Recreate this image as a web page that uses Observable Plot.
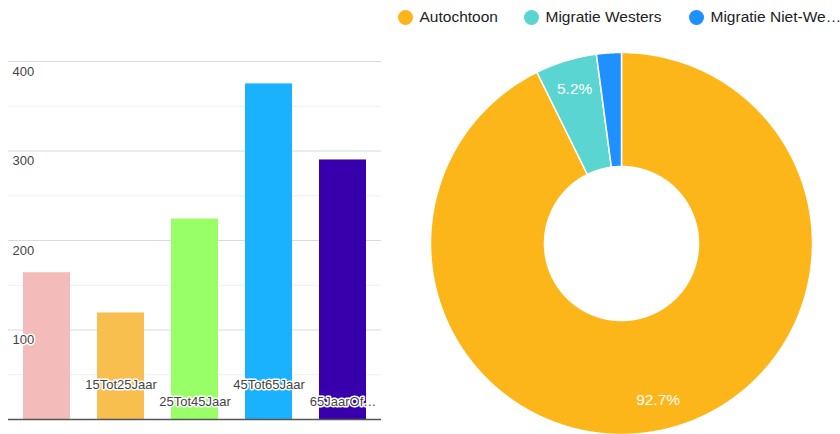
<!DOCTYPE html>
<html><head><meta charset="utf-8">
<script src="https://cdn.jsdelivr.net/npm/d3@7"></script>
<script src="https://cdn.jsdelivr.net/npm/@observablehq/plot@0.6"></script>
<style>
html,body{margin:0;padding:0;background:#fff;}
#wrap{position:relative;width:840px;height:434px;overflow:hidden;font-family:"Liberation Sans",Arial,sans-serif;}
#bars{position:absolute;left:0;top:0;}
#donut{position:absolute;left:420px;top:0;}
.lg{position:absolute;top:0;height:34px;display:flex;align-items:center;font-size:15.5px;color:#222;white-space:nowrap;}
.lg .dot{width:15px;height:15px;border-radius:50%;margin-right:7px;}
</style>
</head><body>
<div id="wrap"><div id="bars"></div><div id="donut"></div></div>
<script>
// ---- data: bar chart ----
const ageGroups = ["0Tot15Jaar", "15Tot25Jaar", "25Tot45Jaar", "45Tot65Jaar", "65JaarOfOuder"];
const ageLabels = ["", "15Tot25Jaar", "25Tot45Jaar", "45Tot65Jaar", "65JaarOf…"];
const ageCounts = [164, 119, 224, 375, 290];
const ageColors = ["#f4bbbb", "#f8be4e", "#99ff66", "#1ab2ff", "#3800ad"];
const yTickValues = [100, 200, 300, 400];
const gridMajor = [100, 200, 300, 400];
const gridMinor = [50, 150, 250, 350];

// ---- data: donut ----
const origins = ["Autochtoon", "Migratie Westers", "Migratie Niet-Westers"];
const originLegend = ["Autochtoon", "Migratie Westers", "Migratie Niet-We…"];
const originShares = [92.7, 5.2, 2.1];
const originColors = ["#fdb619", "#5ad5d1", "#1e90ff"];
const sliceLabels = ["92.7%", "5.2%", ""];

// ---- bar chart ----
const barData = ageGroups.map((g, i) => ({g, v: ageCounts[i], label: ageLabels[i], row: i % 2}));
const halo = {stroke: "white", strokeWidth: 3, fill: "#444", fontSize: 13, fontFamily: "Liberation Sans, Arial, sans-serif"};
const bars = Plot.plot({
  width: 400, height: 434,
  marginLeft: 8, marginRight: 19, marginTop: 61, marginBottom: 15,
  x: {domain: ageGroups, paddingInner: 0.36, paddingOuter: 0.185, axis: null},
  y: {domain: [0, 400], axis: null},
  color: {domain: ageGroups, range: ageColors},
  marks: [
    Plot.ruleY(gridMinor, {stroke: "#efefef", strokeWidth: 1}),
    Plot.ruleY(gridMajor, {stroke: "#dadada", strokeWidth: 1}),
    Plot.barY(barData, {x: "g", y: "v", fill: "g"}),
    Plot.ruleY([0], {stroke: "#555", strokeWidth: 1.6}),
    Plot.text(yTickValues, {y: d => d, text: d => String(d), frameAnchor: "left", textAnchor: "start", dx: 4, dy: 10, ...halo}),
    Plot.text(barData.filter(d => d.row === 1), {x: "g", text: "label", frameAnchor: "bottom", dy: -31, ...halo}),
    Plot.text(barData.filter(d => d.row === 0), {x: "g", text: "label", frameAnchor: "bottom", dy: -13.6, ...halo})
  ]
});
document.getElementById("bars").appendChild(bars);

// ---- donut ----
const R = 191, R0 = 77, RL = 161;
const arcs = d3.pie().sort(null).value(d => d)(originShares);
const sliceMarks = arcs.map((p, i) => {
  const n = Math.max(4, Math.ceil((p.endAngle - p.startAngle) / 0.005));
  const pts = [];
  for (let k = 0; k <= n; k++) { const a = p.startAngle + (p.endAngle - p.startAngle) * k / n; pts.push({x: R * Math.sin(a), y: R * Math.cos(a)}); }
  for (let k = n; k >= 0; k--) { const a = p.startAngle + (p.endAngle - p.startAngle) * k / n; pts.push({x: R0 * Math.sin(a), y: R0 * Math.cos(a)}); }
  pts.push(pts[0]);
  return Plot.line(pts, {x: "x", y: "y", fill: originColors[i], stroke: "white", strokeWidth: 1.5, curve: "linear"});
});
const labelData = arcs.map((p, i) => {
  const m = (p.startAngle + p.endAngle) / 2;
  return {x: RL * Math.sin(m), y: RL * Math.cos(m), t: sliceLabels[i]};
}).filter(d => d.t);
const donut = Plot.plot({
  width: 420, height: 434,
  marginLeft: 0, marginRight: 0, marginTop: 0, marginBottom: 0,
  x: {domain: [-201, 219], axis: null},
  y: {domain: [-191, 243], axis: null},
  marks: [
    ...sliceMarks,
    Plot.text(labelData, {x: "x", y: "y", text: "t", fill: "white", fontSize: 15.5, fontFamily: "Liberation Sans, Arial, sans-serif"})
  ]
});
document.getElementById("donut").appendChild(donut);

// ---- legend ----
const legendLeft = [397.5, 523.5, 688.5];
const wrap = document.getElementById("wrap");
originLegend.forEach((name, i) => {
  const el = document.createElement("div");
  el.className = "lg";
  el.style.left = legendLeft[i] + "px";
  const dot = document.createElement("span");
  dot.className = "dot";
  dot.style.background = originColors[i];
  const tx = document.createElement("span");
  tx.textContent = name;
  el.appendChild(dot); el.appendChild(tx);
  wrap.appendChild(el);
});
</script>
</body></html>
